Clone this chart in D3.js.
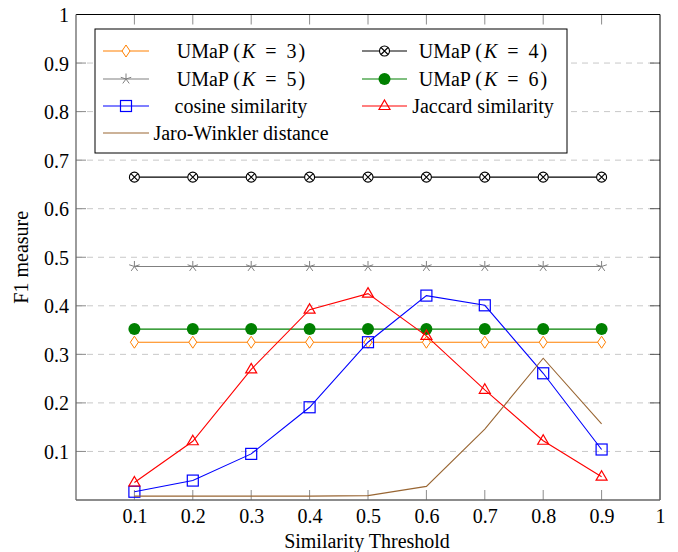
<!DOCTYPE html>
<html>
<head>
<meta charset="utf-8">
<script src="https://cdn.jsdelivr.net/npm/d3@7"></script>
<style>
  body { margin: 0; background: #fff; }
</style>
</head>
<body>
<div id="chart"></div>
<script>
// thresholds on the x axis
var thresholds = [0.1, 0.2, 0.3, 0.4, 0.5, 0.6, 0.7, 0.8, 0.9];
var xTicks = [0.1, 0.2, 0.3, 0.4, 0.5, 0.6, 0.7, 0.8, 0.9, 1];
var yTicks = [0.1, 0.2, 0.3, 0.4, 0.5, 0.6, 0.7, 0.8, 0.9, 1];

var umapK3 = [0.325, 0.325, 0.325, 0.325, 0.325, 0.325, 0.325, 0.325, 0.325];
var umapK4 = [0.665, 0.665, 0.665, 0.665, 0.665, 0.665, 0.665, 0.665, 0.665];
var umapK5 = [0.481, 0.481, 0.481, 0.481, 0.481, 0.481, 0.481, 0.481, 0.481];
var umapK6 = [0.352, 0.352, 0.352, 0.352, 0.352, 0.352, 0.352, 0.352, 0.352];
var cosineSim = [0.017, 0.040, 0.095, 0.191, 0.325, 0.421, 0.401, 0.261, 0.104];
var jaccardSim = [0.036, 0.121, 0.269, 0.392, 0.425, 0.338, 0.227, 0.122, 0.048];
var jaroWinkler = [0.008, 0.008, 0.008, 0.008, 0.009, 0.028, 0.146, 0.292, 0.157];

var series = [
    { name: "UMaP", k: "3", values: umapK3, color: "rgb(255,128,0)", marker: "diamond" },
    { name: "UMaP", k: "4", values: umapK4, color: "#000", marker: "otimes" },
    { name: "UMaP", k: "5", values: umapK5, color: "rgb(128,128,128)", marker: "star" },
    { name: "UMaP", k: "6", values: umapK6, color: "rgb(0,128,0)", marker: "circle" },
    { name: "cosine similarity", values: cosineSim, color: "rgb(0,0,255)", marker: "square" },
    { name: "Jaccard similarity", values: jaccardSim, color: "rgb(255,0,0)", marker: "triangle" },
    { name: "Jaro-Winkler distance", values: jaroWinkler, color: "rgb(153,102,51)", marker: null }
];

var W = 678, H = 552;
var pLeft = 76, pRight = 660, pTop = 14.5, pBottom = 500;
var FONT = "Liberation Serif";

var svg = d3.select("#chart").append("svg")
    .attr("width", W)
    .attr("height", H);

var x = d3.scaleLinear().domain([0, 1]).range([pLeft, pRight]);
var y = d3.scaleLinear().domain([0, 1]).range([pBottom, pTop]);

// dashed horizontal grid
svg.append("g").selectAll("line")
    .data(yTicks.filter(function (d) { return d < 1; }))
    .enter().append("line")
    .attr("x1", pLeft).attr("x2", pRight)
    .attr("y1", function (d) { return y(d); })
    .attr("y2", function (d) { return y(d); })
    .attr("stroke", "#c8c8c8")
    .attr("stroke-width", 1)
    .attr("stroke-dasharray", "6,5");

// tick marks on all four sides, pointing inward
var tickLen = 10;
var ticks = svg.append("g").attr("stroke", "#8c8c8c").attr("stroke-width", 1);
xTicks.filter(function (d) { return d < 1; }).forEach(function (d) {
    ticks.append("line").attr("x1", x(d)).attr("x2", x(d)).attr("y1", pBottom).attr("y2", pBottom - tickLen);
    ticks.append("line").attr("x1", x(d)).attr("x2", x(d)).attr("y1", pTop).attr("y2", pTop + tickLen);
});
yTicks.filter(function (d) { return d < 1; }).forEach(function (d) {
    ticks.append("line").attr("x1", pLeft).attr("x2", pLeft + tickLen).attr("y1", y(d)).attr("y2", y(d));
    ticks.append("line").attr("x1", pRight).attr("x2", pRight - tickLen).attr("y1", y(d)).attr("y2", y(d)).attr("stroke", "#555");
});

// axes tick labels through d3 axes
var fmt = function (d) { return d === 1 ? "1" : d3.format(".1f")(d); };
var xAxis = svg.append("g")
    .attr("transform", "translate(0," + pBottom + ")")
    .call(d3.axisBottom(x).tickValues(xTicks).tickSize(0).tickPadding(8).tickFormat(fmt));
xAxis.select(".domain").remove();
xAxis.selectAll("text").attr("dy", "0.75em");

var yAxis = svg.append("g")
    .attr("transform", "translate(" + pLeft + ",0)")
    .call(d3.axisLeft(y).tickValues(yTicks).tickSize(0).tickPadding(7).tickFormat(fmt));
yAxis.select(".domain").remove();
yAxis.selectAll("text").attr("dy", "0.35em");

// frame
svg.append("line").attr("x1", pLeft).attr("x2", pRight).attr("y1", pTop).attr("y2", pTop).attr("stroke", "#000");
svg.append("line").attr("x1", pRight).attr("x2", pRight).attr("y1", pTop).attr("y2", pBottom).attr("stroke", "#000");
svg.append("line").attr("x1", pLeft).attr("x2", pLeft).attr("y1", pTop).attr("y2", pBottom).attr("stroke", "#666").attr("stroke-width", 1.3);
svg.append("line").attr("x1", pLeft).attr("x2", pRight).attr("y1", pBottom).attr("y2", pBottom).attr("stroke", "#666").attr("stroke-width", 1.3);

// axis titles
svg.append("text")
    .attr("x", (pLeft + pRight) / 2 - 1).attr("y", 548)
    .attr("text-anchor", "middle")
    .text("Similarity Threshold");
svg.append("text")
    .attr("transform", "translate(28," + y(0.5) + ") rotate(-90)")
    .attr("text-anchor", "middle")
    .text("F1 measure");

function drawMarker(g, type, color) {
    if (type === "diamond") {
        g.append("path").attr("d", "M0,-6L4,0L0,6L-4,0Z")
            .attr("fill", "#fff").attr("stroke", color).attr("stroke-width", 1);
    } else if (type === "otimes") {
        g.append("circle").attr("r", 5).attr("fill", "#fff").attr("stroke", color).attr("stroke-width", 1.1);
        g.append("path").attr("d", "M-3.5,-3.5L3.5,3.5M-3.5,3.5L3.5,-3.5")
            .attr("stroke", color).attr("stroke-width", 1.1);
    } else if (type === "star") {
        var d = "";
        for (var i = 0; i < 5; i++) {
            var a = -Math.PI / 2 + i * 2 * Math.PI / 5;
            d += "M0,0L" + (5.5 * Math.cos(a)).toFixed(2) + "," + (5.5 * Math.sin(a)).toFixed(2);
        }
        g.append("path").attr("d", d).attr("stroke", color).attr("stroke-width", 1);
    } else if (type === "circle") {
        g.append("circle").attr("r", 6).attr("fill", color);
    } else if (type === "square") {
        g.append("rect").attr("x", -5.5).attr("y", -5.5).attr("width", 11).attr("height", 11)
            .attr("fill", "none").attr("stroke", color).attr("stroke-width", 1.2);
    } else if (type === "triangle") {
        g.append("path").attr("d", "M0,-6L5.5,3.5L-5.5,3.5Z")
            .attr("fill", "none").attr("stroke", color).attr("stroke-width", 1.2);
    }
}

var line = d3.line()
    .x(function (d, i) { return x(thresholds[i]); })
    .y(function (d) { return y(d); });

series.forEach(function (s) {
    var g = svg.append("g");
    g.append("path")
        .datum(s.values)
        .attr("d", line)
        .attr("fill", "none")
        .attr("stroke", s.color)
        .attr("stroke-width", 1.1);
    if (s.marker) {
        s.values.forEach(function (v, i) {
            var m = g.append("g").attr("transform", "translate(" + x(thresholds[i]) + "," + y(v) + ")");
            drawMarker(m, s.marker, s.color);
        });
    }
});

// legend
var legend = svg.append("g");
legend.append("rect")
    .attr("x", 95).attr("y", 29).attr("width", 472).attr("height", 124)
    .attr("fill", "#fff").attr("stroke", "#000").attr("stroke-width", 1);

var rowY = [51, 79, 106, 133];
var cols = [
    { lx1: 103, lx2: 149, tx: 241 },
    { lx1: 362, lx2: 407, tx: 483 }
];
series.forEach(function (s, i) {
    var c = cols[i % 2];
    var ry = rowY[Math.floor(i / 2)];
    var item = legend.append("g");
    item.append("line")
        .attr("x1", c.lx1).attr("x2", c.lx2).attr("y1", ry).attr("y2", ry)
        .attr("stroke", s.color).attr("stroke-width", 1.1);
    if (s.marker) {
        var m = item.append("g").attr("transform", "translate(" + ((c.lx1 + c.lx2) / 2) + "," + ry + ")");
        drawMarker(m, s.marker, s.color);
    }
    var t = item.append("text")
        .attr("x", c.tx).attr("y", ry + 7)
        .attr("text-anchor", "middle");
    if (s.k) {
        t.append("tspan").text(s.name + " (");
        t.append("tspan").attr("font-style", "italic").attr("dx", 2).text("K");
        t.append("tspan").attr("dx", 10).text("=");
        t.append("tspan").attr("dx", 10).text(s.k);
        t.append("tspan").attr("dx", 2).text(")");
    } else {
        t.text(s.name);
    }
});

// set the serif face on every text directly
svg.selectAll("text")
    .attr("font-family", FONT)
    .attr("font-size", 20)
    .attr("fill", "#000");
</script>
</body>
</html>
